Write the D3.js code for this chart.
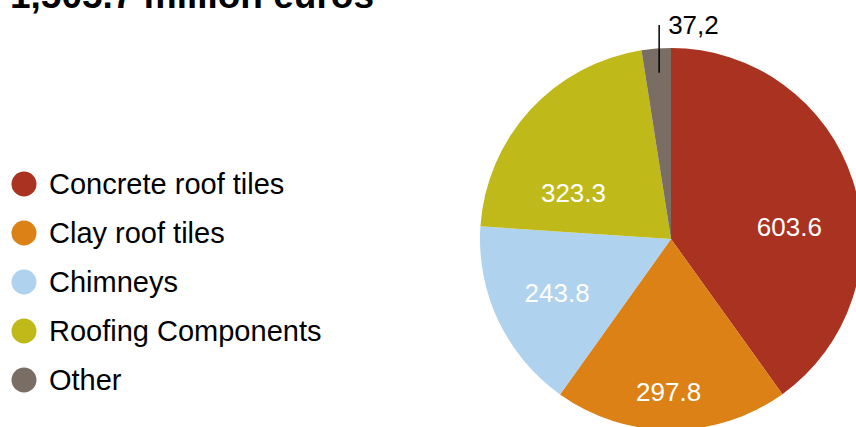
<!DOCTYPE html>
<html>
<head>
<meta charset="utf-8">
<script src="https://cdn.jsdelivr.net/npm/d3@7"></script>
<style>
  body { margin: 0; background: #fff; }
  svg { display: block; font-family: "Liberation Sans", Arial, sans-serif; }
</style>
</head>
<body>
<div id="chart"></div>
<script>
const categories = ['Concrete roof tiles', 'Clay roof tiles', 'Chimneys', 'Roofing Components', 'Other'];
const values = [603.6, 297.8, 243.8, 323.3, 37.2];
const valueLabels = ['603.6', '297.8', '243.8', '323.3', '37,2'];
const colors = ['#a93220', '#dc8115', '#afd2ee', '#bfb91a', '#7a6e64'];
const title = '1,505.7 million euros';

// label placement tweaks (radius, angle shift in degrees) per slice
const labelLayout = [
    { r: 119, da: 12 },
    { r: 153, da: 1 },
    { r: 126, da: 0 },
    { r: 108, da: -17 },
    null
];

const width = 856, height = 427;
const cx = 671, cy = 239, radius = 191;

const svg = d3.select('#chart').append('svg')
    .attr('width', width)
    .attr('height', height);

svg.append('text')
    .attr('x', 10)
    .attr('y', 8)
    .style('font-size', '37px')
    .style('font-weight', 'bold')
    .attr('fill', '#000')
    .text(title);

const data = categories.map((c, i) => ({ name: c, value: values[i], label: valueLabels[i], color: colors[i] }));

const pie = d3.pie().sort(null).value(d => d.value);
const arcs = pie(data);
const arc = d3.arc().innerRadius(0).outerRadius(radius);

const g = svg.append('g').attr('transform', `translate(${cx}, ${cy})`);

g.selectAll('path.slice')
    .data(arcs)
    .enter().append('path')
    .attr('class', 'slice')
    .attr('d', arc)
    .attr('fill', d => d.data.color);

// inside labels
g.selectAll('text.inlabel')
    .data(arcs.filter((d, i) => labelLayout[i]))
    .enter().append('text')
    .attr('class', 'inlabel')
    .attr('transform', d => {
        const lay = labelLayout[d.index];
        const a = (d.startAngle + d.endAngle) / 2 + lay.da * Math.PI / 180;
        return `translate(${lay.r * Math.sin(a)}, ${-lay.r * Math.cos(a)})`;
    })
    .attr('dy', '0.36em')
    .attr('text-anchor', 'middle')
    .attr('fill', '#fff')
    .style('font-size', '26px')
    .text(d => d.data.label);

// outside label with leader line for the small slice
const small = arcs[4];
const midA = (small.startAngle + small.endAngle) / 2;
const lx = radius * 0.8 * Math.sin(midA);
g.append('line')
    .attr('x1', lx).attr('x2', lx)
    .attr('y1', -radius * 0.87)
    .attr('y2', -radius * 1.12)
    .attr('stroke', '#000')
    .attr('stroke-width', 1.5);
g.append('text')
    .attr('x', lx + 9)
    .attr('y', -radius * 1.075)
    .attr('fill', '#000')
    .style('font-size', '26px')
    .text(small.data.label);

// legend
const legend = svg.append('g').attr('transform', 'translate(24, 184)');
const row = legend.selectAll('g')
    .data(data)
    .enter().append('g')
    .attr('transform', (d, i) => `translate(0, ${i * 49})`);
row.append('circle')
    .attr('r', 12.5)
    .attr('fill', d => d.color);
row.append('text')
    .attr('x', 25)
    .attr('dy', '0.36em')
    .attr('fill', '#000')
    .style('font-size', '29px')
    .text(d => d.name);
</script>
</body>
</html>
